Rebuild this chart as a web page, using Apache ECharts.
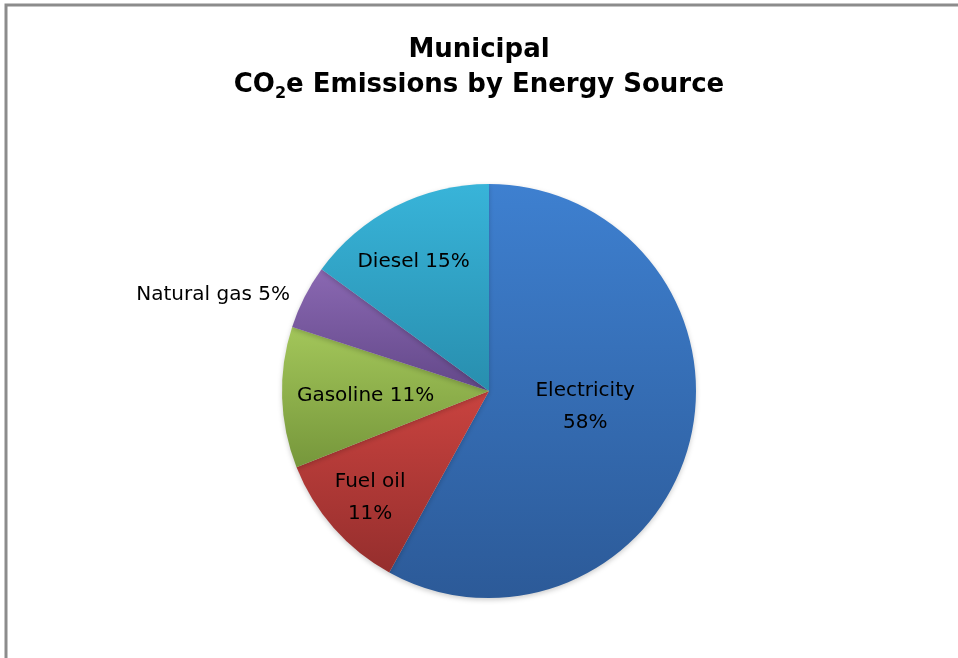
<!DOCTYPE html>
<html>
<head>
<meta charset="utf-8">
<script src="https://cdn.jsdelivr.net/npm/echarts@6/dist/echarts.min.js"></script>
<style>
  html, body { margin: 0; padding: 0; background: #fff; }
  #chart { width: 958px; height: 658px; }
</style>
</head>
<body>
<div id="chart"></div>
<script>
// Municipal CO2e emissions, share by energy source (percent)
const sources = ['Electricity', 'Fuel oil', 'Gasoline', 'Natural gas', 'Diesel'];
const shares = [58, 11, 11, 5, 15];
const labelTexts = ['Electricity\n58%', 'Fuel oil\n11%', 'Gasoline 11%', 'Natural gas 5%', 'Diesel 15%'];

// top / bottom shade of each slice
const shadeTop = ['#3e80d0', '#c9433f', '#a3c65a', '#8a68b2', '#38b4d9'];
const shadeBottom = ['#2c5a98', '#952e2d', '#76973b', '#634889', '#288eae'];

// nudges of each label from its default in-slice spot
const labelNudge = [[-7, -11], [-39, 36], [-17, 1], [-181, -48], [-27, -34]];

const FONT = 'DejaVu Sans';

const chart = echarts.init(document.getElementById('chart'), null, { renderer: 'canvas' });

const data = sources.map((name, i) => ({
  name: name,
  value: shares[i],
  itemStyle: {
    color: new echarts.graphic.LinearGradient(0, 0, 0, 1, [
      { offset: 0, color: shadeTop[i] },
      { offset: 1, color: shadeBottom[i] }
    ])
  },
  label: {
    formatter: labelTexts[i]
  }
}));

chart.setOption({
  backgroundColor: '#ffffff',
  animation: false,
  title: {
    left: 'center',
    top: 28,
    text: '{a|Municipal}\n{a|CO}{s|2}{a|e Emissions by Energy Source}',
    textStyle: {
      rich: {
        a: { fontFamily: FONT, fontWeight: 'bold', fontSize: 26, color: '#000', lineHeight: 35 },
        s: { fontFamily: FONT, fontWeight: 'bold', fontSize: 16, color: '#000', lineHeight: 35, padding: [16, 0, 0, 0] }
      }
    }
  },
  graphic: [{
    type: 'rect',
    shape: { x: 6, y: 5, width: 1200, height: 900 },
    style: { fill: 'none', stroke: '#8c8c8c', lineWidth: 3 },
    silent: true,
    z: 100
  }],
  series: [{
    type: 'pie',
    center: [489, 391],
    radius: [0, 207],
    startAngle: 90,
    clockwise: true,
    data: data,
    itemStyle: {
      shadowBlur: 5,
      shadowOffsetY: 2,
      shadowColor: 'rgba(0,0,0,0.2)'
    },
    emphasis: { disabled: true },
    label: {
      show: true,
      position: 'inside',
      fontFamily: FONT,
      fontSize: 20,
      color: '#000',
      lineHeight: 32,
      align: 'center'
    },
    labelLine: { show: false },
    labelLayout: function (params) {
      const n = labelNudge[params.dataIndex];
      return { dx: n[0], dy: n[1] };
    }
  }]
});
</script>
</body>
</html>
